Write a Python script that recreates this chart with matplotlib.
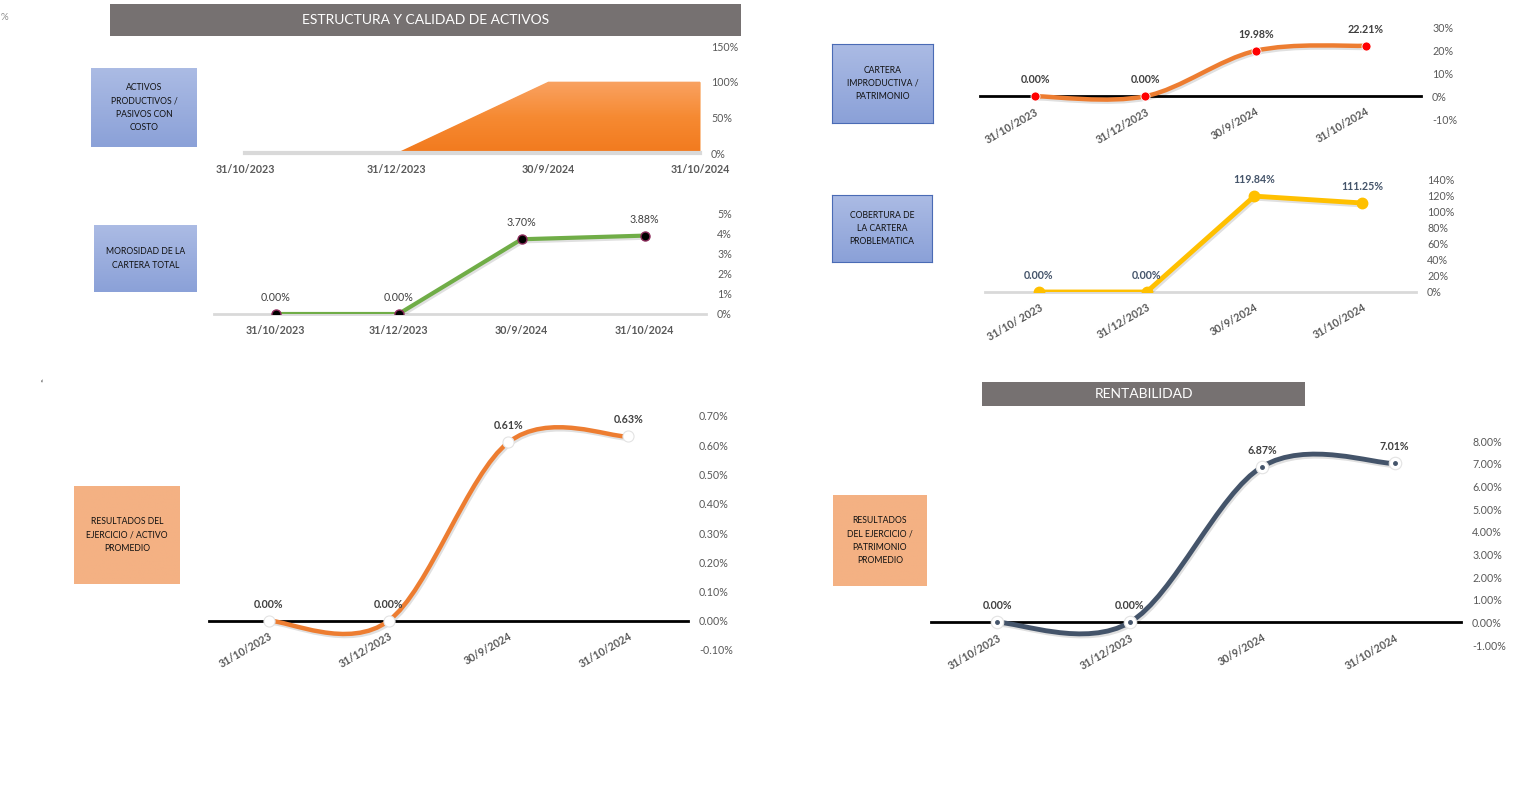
import numpy as np
import matplotlib
matplotlib.use("Agg")
import matplotlib.pyplot as plt
import matplotlib.patheffects as pe
from matplotlib.path import Path
from matplotlib.patches import PathPatch
from matplotlib.colors import LinearSegmentedColormap

plt.rcParams['font.family'] = ['Lato', 'DejaVu Sans']

#datos del tablero
fechas = ['31/10/2023', '31/12/2023', '30/9/2024', '31/10/2024']
fechas_cob = ['31/10/ 2023', '31/12/2023', '30/9/2024', '31/10/2024']
activos_productivos = [0.0, 0.0, 1.0, 1.0]      # fraccion (100% = 1)
morosidad = [0.0, 0.0, 3.70, 3.88]               # %
cartera_improductiva = [0.0, 0.0, 19.98, 22.21]  # %
cobertura = [0.0, 0.0, 119.84, 111.25]           # %
roa = [0.0, 0.0, 0.61, 0.63]                     # %
roe = [0.0, 0.0, 6.87, 7.01]                     # %

W, H = 1519, 807
fig = plt.figure(figsize=(W / 100, H / 100), dpi=100)

GRIS = '#595959'
shadow = [pe.SimpleLineShadow(offset=(1, -1.5), alpha=0.12), pe.Normal()]


def px_axes(left, top, right, bottom):
    #axes placed with pixel coordinates (origin top-left)
    return fig.add_axes([left / W, 1 - bottom / H, (right - left) / W, (bottom - top) / H])


def label_box(left, top, right, bottom, text, c_top, c_bot, edge=None):
    bx = px_axes(left, top, right, bottom)
    grad = np.linspace(0, 1, 60).reshape(-1, 1)
    cmap = LinearSegmentedColormap.from_list('g', [c_top, c_bot])
    bx.imshow(grad, aspect='auto', cmap=cmap, extent=[0, 1, 0, 1], origin='upper')
    bx.set_xticks([])
    bx.set_yticks([])
    for s in bx.spines.values():
        s.set_visible(edge is not None)
        if edge:
            s.set_color(edge)
            s.set_linewidth(0.8)
    bx.text(0.5, 0.5, text, ha='center', va='center', transform=bx.transAxes,
            fontsize=6.2, linespacing=1.6, color='#111111')


def banner(left, top, right, bottom, text):
    bx = px_axes(left, top, right, bottom)
    bx.set_facecolor('#767171')
    bx.set_xticks([])
    bx.set_yticks([])
    for s in bx.spines.values():
        s.set_visible(False)
    bx.text(0.5, 0.5, text, ha='center', va='center', transform=bx.transAxes,
            fontsize=10, color='white')


def setup(ax, ylim, yticks, fmt, labels, rotated, spine_color, zero_spine):
    ax.set_xlim(-0.5, 3.5)
    ax.set_ylim(*ylim)
    ax.set_facecolor('none')
    for s in ['top', 'left', 'right']:
        ax.spines[s].set_visible(False)
    ax.spines['bottom'].set_color(spine_color)
    ax.spines['bottom'].set_linewidth(2)
    if zero_spine:
        ax.spines['bottom'].set_position(('data', 0))
    ax.yaxis.tick_right()
    ax.set_yticks(yticks)
    ax.set_yticklabels([fmt.format(v) for v in yticks])
    ax.tick_params(axis='y', length=0, pad=8, labelsize=7.7, labelcolor=GRIS)
    ax.set_xticks(range(len(labels)))
    if rotated:
        ax.set_xticklabels(labels, rotation=30, ha='right', va='top', rotation_mode='anchor')
        ax.tick_params(axis='x', length=0, pad=7, labelsize=7.7, labelcolor=GRIS)
    else:
        ax.set_xticklabels(labels)
        ax.tick_params(axis='x', length=0, pad=8, labelsize=7.7, labelcolor=GRIS)
    for t in ax.get_xticklabels():
        t.set_fontweight('bold')


def smooth_line(ax, ys, color, lw):
    #Excel style smoothed line (bezier through the points)
    pts = np.column_stack([np.arange(len(ys), dtype=float), np.asarray(ys, float)])
    n = len(pts)
    verts = [pts[0]]
    codes = [Path.MOVETO]
    for i in range(n - 1):
        c1 = pts[i] + (pts[i + 1] - pts[max(i - 1, 0)]) / 6
        c2 = pts[i + 1] - (pts[min(i + 2, n - 1)] - pts[i]) / 6
        verts += [c1, c2, pts[i + 1]]
        codes += [Path.CURVE4] * 3
    ax.add_patch(PathPatch(Path(verts, codes), fill=False, edgecolor=color, lw=lw,
                           capstyle='round', path_effects=shadow, zorder=3))


def data_labels(ax, ys, color, bold=True, dy=8):
    for i, v in enumerate(ys):
        ax.annotate(f'{v:.2f}%', (i, v), xytext=(0, dy), textcoords='offset points',
                    ha='center', va='bottom', fontsize=7.7, color=color,
                    fontweight='bold' if bold else 'normal', zorder=5)


#*******************ESTRUCTURA Y CALIDAD DE ACTIVOS*******************
banner(110, 4, 741, 36, 'ESTRUCTURA Y CALIDAD DE ACTIVOS')

#activos productivos / pasivos con costo (area)
ax1 = px_axes(245, 46, 700, 153)
x = np.arange(len(activos_productivos))
poly = ax1.fill_between(x, activos_productivos, color='#F7882D', lw=0, zorder=1)
grad = np.linspace(0, 1, 80).reshape(-1, 1)
im = ax1.imshow(grad, aspect='auto', origin='upper', extent=[0, 3, 0, max(activos_productivos)],
                cmap=LinearSegmentedColormap.from_list('o', ['#F9A262', '#F68A32', '#F27A1E']), zorder=1.5)
im.set_clip_path(poly.get_paths()[0], transform=ax1.transData)
ax1.set_xlim(0, 3)
ax1.set_ylim(0, 1.5)
for s in ['top', 'left', 'right']:
    ax1.spines[s].set_visible(False)
ax1.spines['bottom'].set_color('#D9D9D9')
ax1.spines['bottom'].set_linewidth(3)
ax1.yaxis.tick_right()
ax1.set_yticks([0, 0.5, 1.0, 1.5])
ax1.set_yticklabels([f'{v * 100:.0f}%' for v in [0, 0.5, 1.0, 1.5]])
ax1.tick_params(axis='y', length=0, pad=8, labelsize=7.7, labelcolor=GRIS)
ax1.set_xticks(x)
ax1.set_xticklabels(fechas, fontweight='bold')
ax1.tick_params(axis='x', length=0, pad=8, labelsize=7.7, labelcolor=GRIS)
ax1.set_facecolor('none')
label_box(91, 68, 197, 147, 'ACTIVOS\nPRODUCTIVOS /\nPASIVOS CON\nCOSTO', '#ABBBE4', '#8BA1D8')

#morosidad de la cartera total
ax2 = px_axes(214, 213, 706, 314)
setup(ax2, (0, 5), [0, 1, 2, 3, 4, 5], '{:.0f}%', fechas, False, '#D9D9D9', False)
ax2.plot(range(4), morosidad, color='#70AD47', lw=3, zorder=3, path_effects=shadow)
ax2.plot(range(4), morosidad, 'o', ms=6.5, mfc='black', mec='#8B2A5A', mew=1, zorder=4)
data_labels(ax2, morosidad, '#404040', bold=False)
label_box(94, 225, 197, 292, 'MOROSIDAD DE LA\nCARTERA TOTAL', '#ABBBE4', '#8BA1D8')

#cartera improductiva / patrimonio
ax3 = px_axes(980, 28, 1421, 119)
setup(ax3, (-10, 30), [-10, 0, 10, 20, 30], '{:.0f}%', fechas, True, 'black', True)
smooth_line(ax3, cartera_improductiva, '#ED7D31', 3.2)
ax3.plot(range(4), cartera_improductiva, 'o', ms=6.5, mfc='#FF0000', mec='white', mew=0.6, zorder=4)
data_labels(ax3, cartera_improductiva, '#404040')
label_box(832, 44, 933, 123, 'CARTERA\nIMPRODUCTIVA /\nPATRIMONIO', '#ABBBE4', '#8BA1D8', edge='#4A6BB5')

#cobertura de la cartera problematica
ax4 = px_axes(985, 180, 1416, 292)
setup(ax4, (0, 140), list(range(0, 141, 20)), '{:.0f}%', fechas_cob, True, '#D9D9D9', False)
ax4.plot(range(4), cobertura, color='#FFC000', lw=3.5, zorder=3, path_effects=shadow)
ax4.plot(range(4), cobertura, 'o', ms=7.5, mfc='#FFC000', mec='#FFC000', zorder=4)
data_labels(ax4, cobertura, '#44546A')
label_box(832, 195, 932, 262, 'COBERTURA DE\nLA CARTERA\nPROBLEMATICA', '#ABBBE4', '#8BA1D8', edge='#4A6BB5')

#*******************RENTABILIDAD*******************
#resultados del ejercicio / activo promedio
ax5 = px_axes(209, 416, 688, 650)
setup(ax5, (-0.10, 0.70), [-0.1, 0, 0.1, 0.2, 0.3, 0.4, 0.5, 0.6, 0.7], '{:.2f}%', fechas, True, 'black', True)
smooth_line(ax5, roa, '#ED7D31', 3.2)
ax5.plot(range(4), roa, 'o', ms=8, mfc='white', mec='#E3E3E3', mew=0.8, zorder=4)
data_labels(ax5, roa, '#404040')
label_box(74, 486, 180, 584, 'RESULTADOS DEL\nEJERCICIO / ACTIVO\nPROMEDIO', '#F4B183', '#F4B183')

#resultados del ejercicio / patrimonio promedio
banner(982, 382, 1305, 406, 'RENTABILIDAD')
ax6 = px_axes(931, 441, 1461, 645)
setup(ax6, (-1, 8), list(range(-1, 9)), '{:.2f}%', fechas, True, 'black', True)
smooth_line(ax6, roe, '#44546A', 3.5)
ax6.plot(range(4), roe, 'o', ms=9, mfc='white', mec='#E3E3E3', mew=0.8, zorder=4)
ax6.plot(range(4), roe, 'o', ms=2.5, color='#44546A', zorder=5)
data_labels(ax6, roe, '#404040')
label_box(833, 495, 927, 586, 'RESULTADOS\nDEL EJERCICIO /\nPATRIMONIO\nPROMEDIO', '#F4B183', '#F4B183')

#bits left over at the page edge
fig.text(0.5 / W, 1 - 18 / H, '%', fontsize=7, color='#8C8C8C', va='center')
fig.text(41 / W, 1 - 384 / H, '\u2018', fontsize=7, color='black', va='center')

fig.savefig('out.png', dpi=100)
